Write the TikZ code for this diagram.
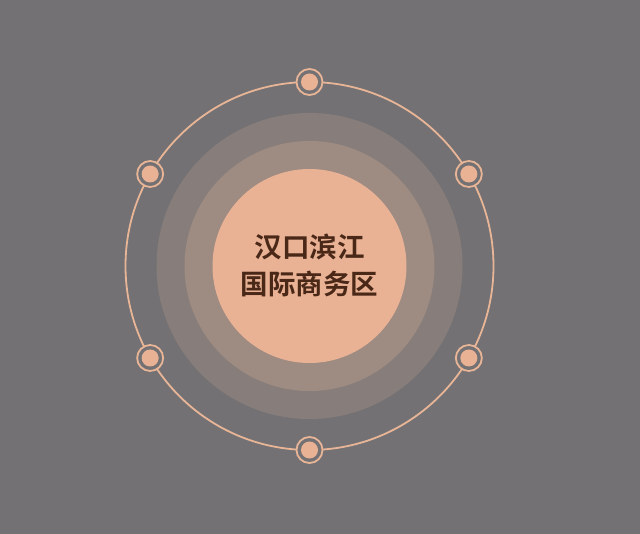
\documentclass[tikz,border=0pt]{standalone}
\usepackage{fontspec}
\usetikzlibrary{calc}
\newfontfamily\cjk{Noto Sans CJK SC}[BoldFont={Noto Sans CJK SC Bold}]
\definecolor{bg}{HTML}{737173}
\definecolor{diskA}{HTML}{877E7B}
\definecolor{diskB}{HTML}{9E8B81}
\definecolor{peach}{HTML}{EAB295}
\definecolor{ringc}{HTML}{E8B597}
\definecolor{txt}{HTML}{4A2818}
\tikzset{
  ringline/.style={draw=ringc, line width=1.8pt},
  satouter/.style={circle, draw=ringc, line width=1.8pt, fill=bg, minimum size=26pt, inner sep=0pt},
  satinner/.style={circle, fill=peach, minimum size=17pt, inner sep=0pt},
}
\begin{document}
\begin{tikzpicture}[x=1pt,y=-1pt]
\fill[bg] (0,0) rectangle (640,534);
\useasboundingbox (0,0) rectangle (640,534);
\coordinate (c) at (309.5,266);
\fill[diskA] (c) circle[radius=153];
\fill[diskB] (c) circle[radius=125];
\fill[peach] (c) circle[radius=97];
\draw[ringline] (c) circle[radius=184];
\foreach \a/\n in {90/t,30/rt,-30/rb,-90/b,-150/lb,150/lt}{
  \node[satouter] (o\n) at ($(c)+(\a:184)$) {};
  \node[satinner] (i\n) at (o\n) {};
}
\node[align=center, text=txt, font=\cjk\bfseries\fontsize{27.5pt}{37pt}\selectfont] (label) at (309.5,265) {汉口滨江\\国际商务区};
\end{tikzpicture}
\end{document}
